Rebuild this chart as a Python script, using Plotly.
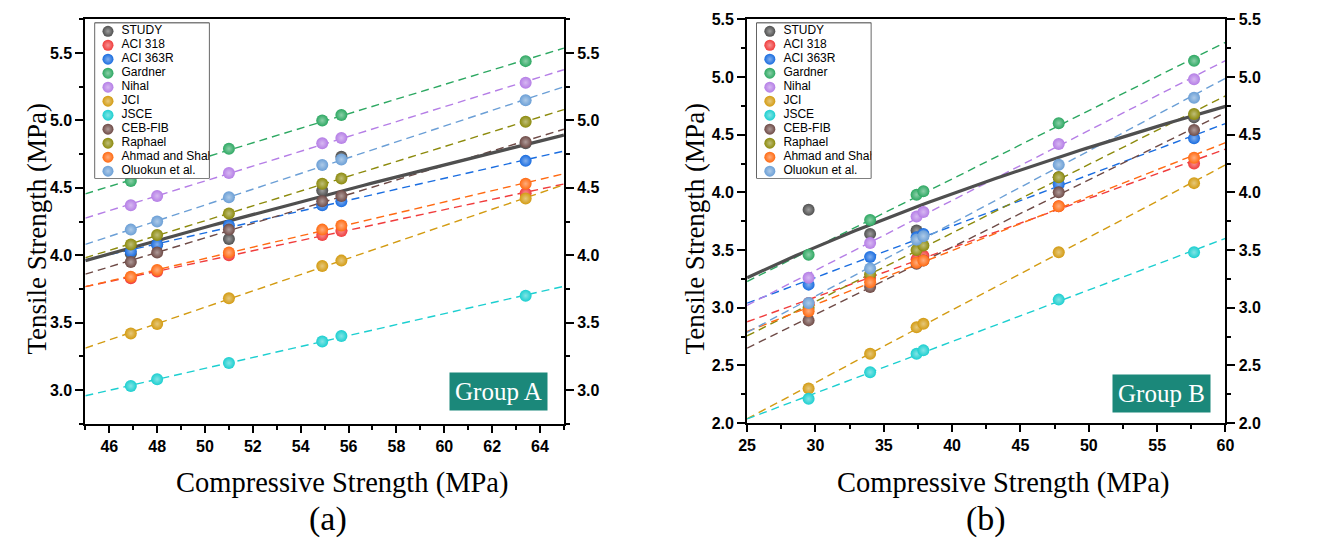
import numpy as np
import plotly.graph_objects as go

W, H = 1320, 549

# ---------------- data ----------------
series = ["STUDY", "ACI 318", "ACI 363R", "Gardner", "Nihal", "JCI", "JSCE",
          "CEB-FIB", "Raphael", "Ahmad and Shah", "Oluokun et al."]
colors = ["#4f4f4f", "#f03c3c", "#1a6de0", "#2da862", "#b57ee6", "#d39b12",
          "#1ccfd0", "#6e4a46", "#8c8a0c", "#ff6a12", "#6b9fd6"]

# Group A
fc_a = [46.9, 48.0, 51.0, 54.9, 55.7, 63.4]
study_a = [4.01, 4.08, 4.12, 4.48, 4.73, 4.83]
aci318_a = [3.83, 3.88, 4.00, 4.15, 4.18, 4.46]
aci363_a = [4.03, 4.08, 4.22, 4.37, 4.40, 4.70]
gardner_a = [4.55, 4.61, 4.79, 5.00, 5.04, 5.44]
nihal_a = [4.37, 4.44, 4.61, 4.83, 4.87, 5.28]
jci_a = [3.42, 3.49, 3.68, 3.92, 3.96, 4.42]
jsce_a = [3.03, 3.08, 3.20, 3.36, 3.40, 3.70]
ceb_a = [3.95, 4.02, 4.19, 4.40, 4.44, 4.84]
raphael_a = [4.08, 4.15, 4.31, 4.53, 4.57, 4.99]
ahmad_a = [3.84, 3.89, 4.02, 4.19, 4.22, 4.53]
oluokun_a = [4.19, 4.25, 4.43, 4.67, 4.71, 5.15]

# Group B
fc_b = [29.5, 34.0, 37.4, 37.9, 47.8, 57.7]
study_b = [3.85, 3.64, 3.67, 3.63, 4.13, 4.65]
aci318_b = [3.04, 3.26, 3.42, 3.45, 3.88, 4.25]
aci363_b = [3.20, 3.44, 3.61, 3.64, 4.07, 4.47]
gardner_b = [3.46, 3.76, 3.98, 4.01, 4.60, 5.14]
nihal_b = [3.26, 3.56, 3.79, 3.83, 4.42, 4.98]
jci_b = [2.30, 2.60, 2.83, 2.86, 3.48, 4.08]
jsce_b = [2.21, 2.44, 2.60, 2.63, 3.07, 3.48]
ceb_b = [2.89, 3.18, 3.38, 3.41, 4.00, 4.54]
raphael_b = [3.00, 3.29, 3.50, 3.54, 4.13, 4.68]
ahmad_b = [2.97, 3.22, 3.39, 3.41, 3.88, 4.30]
oluokun_b = [3.04, 3.34, 3.59, 3.62, 4.24, 4.82]

# power-law trend of the study results: f_t = a * f_c ** b  ->  [a, b]
study_fit_a = [0.4454, 0.574]
study_fit_b = [0.8193, 0.429]

values_a = [study_a, aci318_a, aci363_a, gardner_a, nihal_a, jci_a, jsce_a,
            ceb_a, raphael_a, ahmad_a, oluokun_a]
values_b = [study_b, aci318_b, aci363_b, gardner_b, nihal_b, jci_b, jsce_b,
            ceb_b, raphael_b, ahmad_b, oluokun_b]

# ---------------- helpers ----------------
def px_x(p):
    return p / W


def px_y(p):
    return 1 - p / H


def lighten(hex_color, f):
    h = hex_color.lstrip("#")
    r, g, b = (int(h[i:i + 2], 16) for i in (0, 2, 4))
    r = int(r + (255 - r) * f)
    g = int(g + (255 - g) * f)
    b = int(b + (255 - b) * f)
    return f"rgb({r},{g},{b})"


TICKFONT = dict(family="Liberation Sans, Arial, sans-serif",
                size=16, color="black", weight="bold")
SERIF = "Liberation Serif, Times New Roman, serif"

fig = go.Figure()

panels = [
    dict(fc=fc_a, vals=values_a, fit=study_fit_a, xr=[45, 65], xa="x", ya="y"),
    dict(fc=fc_b, vals=values_b, fit=study_fit_b, xr=[25, 60], xa="x2", ya="y3"),
]

for p in panels:
    xr = np.array(p["xr"], dtype=float)
    # dashed linear trend of each predictive model
    for name, col, vals in zip(series[1:], colors[1:], p["vals"][1:]):
        k, c = np.polyfit(p["fc"], vals, 1)
        fig.add_trace(go.Scatter(x=xr, y=k * xr + c, mode="lines",
                                 line=dict(color=col, width=1.4, dash="8px,5px"),
                                 xaxis=p["xa"], yaxis=p["ya"], showlegend=False,
                                 hoverinfo="skip"))
    # solid power-law trend of the study data
    xs = np.linspace(xr[0], xr[1], 80)
    a, b = p["fit"]
    fig.add_trace(go.Scatter(x=xs, y=a * xs ** b, mode="lines",
                             line=dict(color="#4f4f4f", width=3.2),
                             xaxis=p["xa"], yaxis=p["ya"], showlegend=False,
                             hoverinfo="skip"))
    # spherical markers
    for name, col, vals in zip(series, colors, p["vals"]):
        fig.add_trace(go.Scatter(
            x=p["fc"], y=vals, mode="markers", name=name,
            marker=dict(size=12, color=col, line=dict(width=0),
                        gradient=dict(type="radial", color=lighten(col, 0.45))),
            xaxis=p["xa"], yaxis=p["ya"], showlegend=False))

# ---------------- legends (one per panel) ----------------
legend_boxes = [("x3", "y5"), ("x4", "y6")]
item_y = list(range(len(series)))
for xa, ya in legend_boxes:
    fig.add_trace(go.Scatter(
        x=[0.117] * len(series), y=item_y, mode="markers",
        marker=dict(size=11, color=colors, line=dict(width=0),
                    gradient=dict(type="radial", color=[lighten(c, 0.45) for c in colors])),
        xaxis=xa, yaxis=ya, showlegend=False, hoverinfo="skip"))
    fig.add_trace(go.Scatter(
        x=[0.235] * len(series), y=item_y, mode="text", text=series,
        textposition="middle right",
        textfont=dict(family="Liberation Sans, Arial", size=12, color="black"),
        xaxis=xa, yaxis=ya, showlegend=False, hoverinfo="skip", cliponaxis=True))
    fig.add_shape(type="rect", xref=xa, yref=ya, x0=0, x1=1, y0=-0.624, y1=10.53,
                  fillcolor="white", line=dict(color="black", width=1.2), layer="below")

# ---------------- axes ----------------
def frame_x(domain, rng, dtick, mdtick, anchor):
    return dict(domain=domain, range=rng, anchor=anchor, showgrid=False, zeroline=False,
                showline=True, linecolor="black", linewidth=2, mirror=True,
                ticks="outside", ticklen=7, tickwidth=2, tickcolor="black",
                tick0=0, dtick=dtick, tickfont=TICKFONT,
                tickprefix="<b>", ticksuffix="</b>",
                minor=dict(dtick=mdtick, tick0=0, ticks="outside", ticklen=4,
                           tickwidth=1.5, tickcolor="black"))


def frame_y(domain, rng, anchor, side, overlaying=None):
    d = dict(domain=domain, range=rng, anchor=anchor, side=side, showgrid=False,
             zeroline=False, showline=True, linecolor="black", linewidth=2,
             ticks="outside", ticklen=8, tickwidth=2, tickcolor="black",
             tick0=0, dtick=0.5, tickformat=".1f", tickfont=TICKFONT,
             tickprefix="<b>", ticksuffix="</b>",
             minor=dict(dtick=0.25, tick0=0, ticks="outside", ticklen=4,
                        tickwidth=1.5, tickcolor="black"))
    if overlaying:
        d["overlaying"] = overlaying
    return d


dom_xa = [px_x(77.4), px_x(562.6)]
dom_ya = [px_y(429), px_y(11.7)]
dom_xb = [px_x(748.3), px_x(1233.3)]
dom_yb = [px_y(428.3), px_y(11.7)]

hidden = dict(visible=False, fixedrange=True)

fig.update_layout(
    width=W, height=H, margin=dict(l=0, r=0, t=0, b=0),
    paper_bgcolor="white", plot_bgcolor="white", showlegend=False,
    xaxis=frame_x(dom_xa, [45, 65], 2, 1, "y"),
    yaxis=frame_y(dom_ya, [2.75, 5.75], "x", "left"),
    yaxis2=frame_y(dom_ya, [2.75, 5.75], "x", "right", overlaying="y"),
    xaxis2=frame_x(dom_xb, [25, 60], 5, 2.5, "y3"),
    yaxis3=frame_y(dom_yb, [2.0, 5.5], "x2", "left"),
    yaxis4=frame_y(dom_yb, [2.0, 5.5], "x2", "right", overlaying="y3"),
    xaxis3=dict(domain=[px_x(86.7), px_x(203.3)], range=[0, 1], anchor="y5", **hidden),
    yaxis5=dict(domain=[px_y(176), px_y(15)], range=[10.53, -0.624], anchor="x3", **hidden),
    xaxis4=dict(domain=[px_x(757.7), px_x(874.3)], range=[0, 1], anchor="y6", **hidden),
    yaxis6=dict(domain=[px_y(176), px_y(15)], range=[10.53, -0.624], anchor="x4", **hidden),
)

# empty traces so the right-hand axes are laid out
fig.add_trace(go.Scatter(x=[], y=[], xaxis="x", yaxis="y2", showlegend=False))
fig.add_trace(go.Scatter(x=[], y=[], xaxis="x2", yaxis="y4", showlegend=False))

# ---------------- text ----------------
annotations = []
titles = [
    (337.5, 490, "Compressive Strength (MPa)", 0, 28.5),
    (1008, 490, "Compressive Strength (MPa)", 0, 28.5),
    (28, 228, "Tensile Strength (MPa)", -90, 27),
    (695, 228, "Tensile Strength (MPa)", -90, 27),
    (323, 527, "(a)", 0, 34),
    (990, 527, "(b)", 0, 34),
]
for x, y, t, ang, sz in titles:
    annotations.append(dict(x=px_x(x), y=px_y(y), xref="paper", yref="paper", text=t,
                            showarrow=False, textangle=ang, xanchor="center", yanchor="middle",
                            font=dict(family=SERIF, size=sz, color="black")))

for cx, cy, t in [(496.7, 395.7, "Group A"), (1168.3, 397.8, "Group B")]:
    annotations.append(dict(x=px_x(cx), y=px_y(cy), xref="paper", yref="paper", text=t,
                            showarrow=False, xanchor="center", yanchor="middle",
                            bgcolor="#1b887a", borderpad=5,
                            font=dict(family=SERIF, size=25, color="white")))

fig.update_layout(annotations=annotations)

fig.write_html("out.html")
